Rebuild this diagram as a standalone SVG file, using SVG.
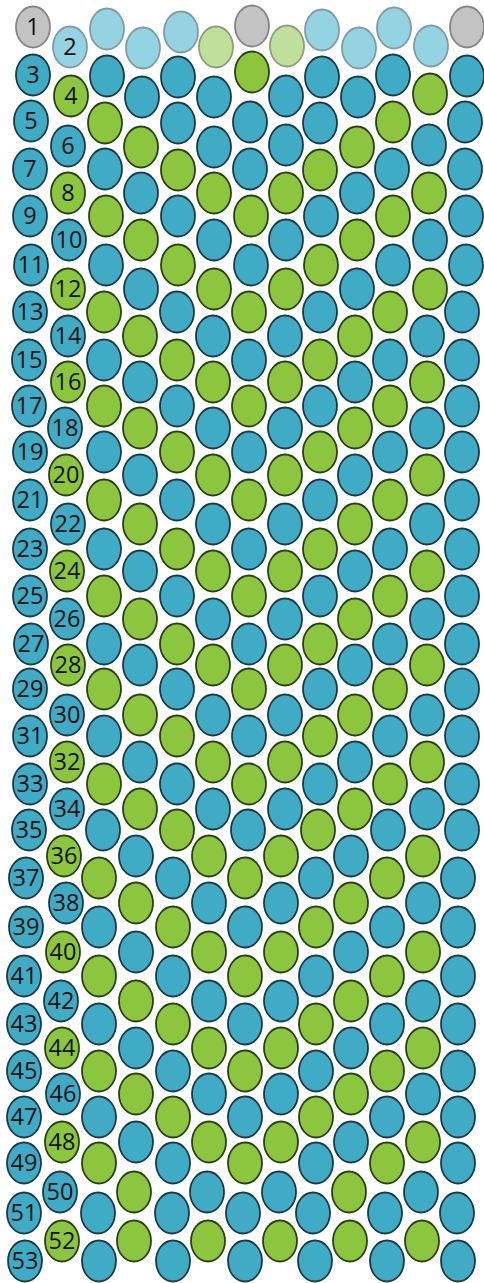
<svg xmlns="http://www.w3.org/2000/svg" xmlns:xlink="http://www.w3.org/1999/xlink" width="484" height="1283" viewBox="0 0 484 1283">
<style>
.bd{stroke-width:1.8}
.b{fill:#40abc4;stroke:#1c3a45}
.g{fill:#8cc63f;stroke:#2a4016}
.l{fill:#94d3e1;stroke:#7f9ca3}
.n{fill:#bfe09a;stroke:#8d9f78}
.y{fill:#c3c3c3;stroke:#858585}
text{font-family:"Open Sans","Noto Sans",sans-serif;font-size:23.5px;fill:#111;text-anchor:middle}
</style>
<defs>
<ellipse id="b" class="bd b" rx="17" ry="20.5"/>
<ellipse id="g" class="bd g" rx="17" ry="20.5"/>
<ellipse id="l" class="bd l" rx="17" ry="20.5"/>
<ellipse id="n" class="bd n" rx="17" ry="20.5"/>
<ellipse id="y" class="bd y" rx="17" ry="20.5"/>
</defs>
<rect width="484" height="1283" fill="#fff"/>
<g id="row-1"><use href="#y" x="33" y="27"/><use href="#l" x="107" y="29"/><use href="#l" x="181" y="32"/><use href="#y" x="252" y="26"/><use href="#l" x="322" y="30"/><use href="#l" x="394" y="28"/><use href="#y" x="467" y="27"/><text x="33" y="35">1</text></g>
<g id="row-2"><use href="#l" x="70" y="47"/><use href="#l" x="143" y="48"/><use href="#n" x="216" y="47"/><use href="#n" x="287" y="46"/><use href="#l" x="359" y="48"/><use href="#l" x="431" y="46"/><text x="70" y="55">2</text></g>
<g id="row-3"><use href="#b" x="33" y="75"/><use href="#b" x="107" y="76"/><use href="#b" x="178" y="77"/><use href="#g" x="252" y="72"/><use href="#b" x="322" y="77"/><use href="#b" x="393" y="75"/><use href="#b" x="467" y="76"/><text x="33" y="83">3</text></g>
<g id="row-4"><use href="#g" x="71" y="96"/><use href="#b" x="142" y="97"/><use href="#b" x="214" y="97"/><use href="#b" x="286" y="96"/><use href="#b" x="358" y="97"/><use href="#g" x="430" y="94"/><text x="71" y="104">4</text></g>
<g id="row-5"><use href="#b" x="31" y="121"/><use href="#g" x="105" y="123"/><use href="#b" x="178" y="123"/><use href="#b" x="250" y="122"/><use href="#b" x="320" y="123"/><use href="#g" x="393" y="122"/><use href="#b" x="465" y="122"/><text x="31" y="129">5</text></g>
<g id="row-6"><use href="#b" x="68" y="146"/><use href="#g" x="141" y="147"/><use href="#b" x="214" y="147"/><use href="#b" x="286" y="145"/><use href="#g" x="357" y="147"/><use href="#b" x="429" y="145"/><text x="68" y="154">6</text></g>
<g id="row-7"><use href="#b" x="30" y="169"/><use href="#b" x="105" y="169"/><use href="#g" x="178" y="170"/><use href="#b" x="250" y="169"/><use href="#g" x="320" y="170"/><use href="#b" x="392" y="169"/><use href="#b" x="465" y="169"/><text x="30" y="177">7</text></g>
<g id="row-8"><use href="#g" x="68" y="193"/><use href="#b" x="141" y="193"/><use href="#g" x="214" y="193"/><use href="#g" x="286" y="193"/><use href="#b" x="357" y="193"/><use href="#g" x="429" y="193"/><text x="68" y="201">8</text></g>
<g id="row-9"><use href="#b" x="30" y="216"/><use href="#g" x="106" y="216"/><use href="#b" x="178" y="216"/><use href="#g" x="251" y="216"/><use href="#b" x="321" y="216"/><use href="#g" x="393" y="216"/><use href="#b" x="466" y="216"/><text x="30" y="224">9</text></g>
<g id="row-10"><use href="#b" x="69" y="240"/><use href="#g" x="141" y="240"/><use href="#b" x="214" y="240"/><use href="#b" x="286" y="240"/><use href="#g" x="357" y="240"/><use href="#b" x="430" y="240"/><text x="69" y="248">10</text></g>
<g id="row-11"><use href="#b" x="31" y="265"/><use href="#b" x="106" y="265"/><use href="#g" x="178" y="265"/><use href="#b" x="251" y="265"/><use href="#g" x="321" y="265"/><use href="#b" x="393" y="265"/><use href="#b" x="466" y="265"/><text x="31" y="273">11</text></g>
<g id="row-12"><use href="#g" x="68" y="289"/><use href="#b" x="141" y="289"/><use href="#g" x="214" y="289"/><use href="#g" x="286" y="289"/><use href="#b" x="357" y="289"/><use href="#g" x="430" y="289"/><text x="68" y="297">12</text></g>
<g id="row-13"><use href="#b" x="30" y="312"/><use href="#g" x="104" y="312"/><use href="#b" x="177" y="312"/><use href="#g" x="249" y="312"/><use href="#b" x="320" y="312"/><use href="#g" x="390" y="312"/><use href="#b" x="462" y="312"/><text x="30" y="320">13</text></g>
<g id="row-14"><use href="#b" x="68" y="336"/><use href="#g" x="140" y="336"/><use href="#b" x="213" y="336"/><use href="#b" x="285" y="336"/><use href="#g" x="355" y="336"/><use href="#b" x="427" y="336"/><text x="68" y="344">14</text></g>
<g id="row-15"><use href="#b" x="29" y="360"/><use href="#b" x="104" y="360"/><use href="#g" x="177" y="360"/><use href="#b" x="249" y="360"/><use href="#g" x="320" y="360"/><use href="#b" x="390" y="360"/><use href="#b" x="462" y="360"/><text x="29" y="368">15</text></g>
<g id="row-16"><use href="#g" x="68" y="382"/><use href="#b" x="140" y="382"/><use href="#g" x="213" y="382"/><use href="#g" x="285" y="382"/><use href="#b" x="355" y="382"/><use href="#g" x="427" y="382"/><text x="68" y="390">16</text></g>
<g id="row-17"><use href="#b" x="29" y="406"/><use href="#g" x="104" y="406"/><use href="#b" x="177" y="406"/><use href="#g" x="249" y="406"/><use href="#b" x="320" y="406"/><use href="#g" x="390" y="406"/><use href="#b" x="462" y="406"/><text x="29" y="414">17</text></g>
<g id="row-18"><use href="#b" x="65" y="428"/><use href="#g" x="140" y="428"/><use href="#b" x="213" y="428"/><use href="#b" x="285" y="428"/><use href="#g" x="355" y="428"/><use href="#b" x="427" y="428"/><text x="65" y="436">18</text></g>
<g id="row-19"><use href="#b" x="30" y="452"/><use href="#b" x="104" y="452"/><use href="#g" x="177" y="452"/><use href="#b" x="249" y="452"/><use href="#g" x="320" y="452"/><use href="#b" x="390" y="452"/><use href="#b" x="462" y="452"/><text x="30" y="460">19</text></g>
<g id="row-20"><use href="#g" x="66" y="475"/><use href="#b" x="140" y="475"/><use href="#g" x="213" y="475"/><use href="#g" x="285" y="475"/><use href="#b" x="355" y="475"/><use href="#g" x="427" y="475"/><text x="66" y="483">20</text></g>
<g id="row-21"><use href="#b" x="30" y="500"/><use href="#g" x="104" y="500"/><use href="#b" x="177" y="500"/><use href="#g" x="249" y="500"/><use href="#b" x="320" y="500"/><use href="#g" x="390" y="500"/><use href="#b" x="462" y="500"/><text x="30" y="508">21</text></g>
<g id="row-22"><use href="#b" x="68" y="524"/><use href="#g" x="140" y="524"/><use href="#b" x="213" y="524"/><use href="#b" x="285" y="524"/><use href="#g" x="355" y="524"/><use href="#b" x="427" y="524"/><text x="68" y="532">22</text></g>
<g id="row-23"><use href="#b" x="30" y="549"/><use href="#b" x="104" y="549"/><use href="#g" x="177" y="549"/><use href="#b" x="249" y="549"/><use href="#g" x="320" y="549"/><use href="#b" x="390" y="549"/><use href="#b" x="462" y="549"/><text x="30" y="557">23</text></g>
<g id="row-24"><use href="#g" x="67" y="571"/><use href="#b" x="140" y="571"/><use href="#g" x="213" y="571"/><use href="#g" x="285" y="571"/><use href="#b" x="355" y="571"/><use href="#g" x="427" y="571"/><text x="67" y="579">24</text></g>
<g id="row-25"><use href="#b" x="30" y="596"/><use href="#g" x="104" y="596"/><use href="#b" x="177" y="596"/><use href="#g" x="249" y="596"/><use href="#b" x="320" y="596"/><use href="#g" x="390" y="596"/><use href="#b" x="462" y="596"/><text x="30" y="604">25</text></g>
<g id="row-26"><use href="#b" x="67" y="619"/><use href="#g" x="140" y="619"/><use href="#b" x="213" y="619"/><use href="#b" x="285" y="619"/><use href="#g" x="355" y="619"/><use href="#b" x="427" y="619"/><text x="67" y="627">26</text></g>
<g id="row-27"><use href="#b" x="31" y="644"/><use href="#b" x="104" y="644"/><use href="#g" x="177" y="644"/><use href="#b" x="249" y="644"/><use href="#g" x="320" y="644"/><use href="#b" x="390" y="644"/><use href="#b" x="462" y="644"/><text x="31" y="652">27</text></g>
<g id="row-28"><use href="#g" x="68" y="665"/><use href="#b" x="140" y="665"/><use href="#g" x="213" y="665"/><use href="#g" x="285" y="665"/><use href="#b" x="355" y="665"/><use href="#g" x="427" y="665"/><text x="68" y="673">28</text></g>
<g id="row-29"><use href="#b" x="30" y="689"/><use href="#g" x="104" y="689"/><use href="#b" x="177" y="689"/><use href="#g" x="249" y="689"/><use href="#b" x="320" y="689"/><use href="#g" x="390" y="689"/><use href="#b" x="462" y="689"/><text x="30" y="697">29</text></g>
<g id="row-30"><use href="#b" x="67" y="715"/><use href="#g" x="140" y="715"/><use href="#b" x="213" y="715"/><use href="#b" x="285" y="715"/><use href="#g" x="355" y="715"/><use href="#b" x="427" y="715"/><text x="67" y="723">30</text></g>
<g id="row-31"><use href="#b" x="30" y="736"/><use href="#b" x="104" y="736"/><use href="#g" x="177" y="736"/><use href="#b" x="249" y="736"/><use href="#g" x="320" y="736"/><use href="#b" x="390" y="736"/><use href="#b" x="462" y="736"/><text x="30" y="744">31</text></g>
<g id="row-32"><use href="#g" x="67" y="762"/><use href="#b" x="140" y="762"/><use href="#g" x="213" y="762"/><use href="#g" x="285" y="762"/><use href="#b" x="355" y="762"/><use href="#g" x="427" y="762"/><text x="67" y="770">32</text></g>
<g id="row-33"><use href="#b" x="30" y="784"/><use href="#g" x="104" y="784"/><use href="#b" x="177" y="784"/><use href="#g" x="249" y="784"/><use href="#b" x="320" y="784"/><use href="#g" x="390" y="784"/><use href="#b" x="462" y="784"/><text x="30" y="792">33</text></g>
<g id="row-34"><use href="#b" x="67" y="809"/><use href="#g" x="140" y="809"/><use href="#b" x="213" y="809"/><use href="#b" x="285" y="809"/><use href="#g" x="355" y="809"/><use href="#b" x="427" y="809"/><text x="67" y="817">34</text></g>
<g id="row-35"><use href="#b" x="29" y="830"/><use href="#b" x="103" y="830"/><use href="#g" x="177" y="830"/><use href="#b" x="248" y="830"/><use href="#g" x="318" y="830"/><use href="#b" x="388" y="830"/><use href="#b" x="462" y="830"/><text x="29" y="838">35</text></g>
<g id="row-36"><use href="#g" x="64" y="856"/><use href="#b" x="136" y="856"/><use href="#g" x="209" y="856"/><use href="#g" x="281" y="856"/><use href="#b" x="351" y="856"/><use href="#g" x="423" y="856"/><text x="64" y="864">36</text></g>
<g id="row-37"><use href="#b" x="26" y="878"/><use href="#g" x="99" y="878"/><use href="#b" x="173" y="878"/><use href="#g" x="245" y="878"/><use href="#b" x="316" y="878"/><use href="#g" x="387" y="878"/><use href="#b" x="458" y="878"/><text x="26" y="886">37</text></g>
<g id="row-38"><use href="#b" x="66" y="903"/><use href="#g" x="136" y="903"/><use href="#b" x="209" y="903"/><use href="#b" x="281" y="903"/><use href="#g" x="351" y="903"/><use href="#b" x="423" y="903"/><text x="66" y="911">38</text></g>
<g id="row-39"><use href="#b" x="26" y="927"/><use href="#b" x="99" y="927"/><use href="#g" x="173" y="927"/><use href="#b" x="245" y="927"/><use href="#g" x="316" y="927"/><use href="#b" x="387" y="927"/><use href="#b" x="458" y="927"/><text x="26" y="935">39</text></g>
<g id="row-40"><use href="#g" x="63" y="952"/><use href="#b" x="136" y="952"/><use href="#g" x="209" y="952"/><use href="#g" x="281" y="952"/><use href="#b" x="351" y="952"/><use href="#g" x="423" y="952"/><text x="63" y="960">40</text></g>
<g id="row-41"><use href="#b" x="24" y="976"/><use href="#g" x="99" y="976"/><use href="#b" x="173" y="976"/><use href="#g" x="245" y="976"/><use href="#b" x="316" y="976"/><use href="#g" x="387" y="976"/><use href="#b" x="458" y="976"/><text x="24" y="984">41</text></g>
<g id="row-42"><use href="#b" x="61" y="1001"/><use href="#g" x="136" y="1001"/><use href="#b" x="209" y="1001"/><use href="#b" x="281" y="1001"/><use href="#g" x="351" y="1001"/><use href="#b" x="423" y="1001"/><text x="61" y="1009">42</text></g>
<g id="row-43"><use href="#b" x="24" y="1024"/><use href="#b" x="99" y="1024"/><use href="#g" x="173" y="1024"/><use href="#b" x="245" y="1024"/><use href="#g" x="316" y="1024"/><use href="#b" x="387" y="1024"/><use href="#b" x="458" y="1024"/><text x="24" y="1032">43</text></g>
<g id="row-44"><use href="#g" x="62" y="1048"/><use href="#b" x="136" y="1048"/><use href="#g" x="209" y="1048"/><use href="#g" x="281" y="1048"/><use href="#b" x="351" y="1048"/><use href="#g" x="423" y="1048"/><text x="62" y="1056">44</text></g>
<g id="row-45"><use href="#b" x="24" y="1071"/><use href="#g" x="99" y="1071"/><use href="#b" x="173" y="1071"/><use href="#g" x="245" y="1071"/><use href="#b" x="316" y="1071"/><use href="#g" x="387" y="1071"/><use href="#b" x="458" y="1071"/><text x="24" y="1079">45</text></g>
<g id="row-46"><use href="#b" x="63" y="1094"/><use href="#g" x="136" y="1094"/><use href="#b" x="209" y="1094"/><use href="#b" x="281" y="1094"/><use href="#g" x="351" y="1094"/><use href="#b" x="423" y="1094"/><text x="63" y="1102">46</text></g>
<g id="row-47"><use href="#b" x="24" y="1117"/><use href="#b" x="99" y="1117"/><use href="#g" x="173" y="1117"/><use href="#b" x="245" y="1117"/><use href="#g" x="316" y="1117"/><use href="#b" x="387" y="1117"/><use href="#b" x="458" y="1117"/><text x="24" y="1125">47</text></g>
<g id="row-48"><use href="#g" x="62" y="1142"/><use href="#b" x="136" y="1142"/><use href="#g" x="209" y="1142"/><use href="#g" x="281" y="1142"/><use href="#b" x="351" y="1142"/><use href="#g" x="423" y="1142"/><text x="62" y="1150">48</text></g>
<g id="row-49"><use href="#b" x="24" y="1163"/><use href="#g" x="99" y="1163"/><use href="#b" x="173" y="1163"/><use href="#g" x="245" y="1163"/><use href="#b" x="316" y="1163"/><use href="#g" x="387" y="1163"/><use href="#b" x="458" y="1163"/><text x="24" y="1171">49</text></g>
<g id="row-50"><use href="#b" x="60" y="1192"/><use href="#g" x="134" y="1192"/><use href="#b" x="207" y="1192"/><use href="#b" x="279" y="1192"/><use href="#g" x="349" y="1192"/><use href="#b" x="421" y="1192"/><text x="60" y="1200">50</text></g>
<g id="row-51"><use href="#b" x="24" y="1213"/><use href="#b" x="98" y="1213"/><use href="#b" x="172" y="1213"/><use href="#b" x="243" y="1213"/><use href="#b" x="313" y="1213"/><use href="#b" x="385" y="1213"/><use href="#b" x="457" y="1213"/><text x="24" y="1221">51</text></g>
<g id="row-52"><use href="#g" x="62" y="1241"/><use href="#g" x="134" y="1241"/><use href="#g" x="208" y="1241"/><use href="#g" x="280" y="1241"/><use href="#g" x="350" y="1241"/><use href="#g" x="422" y="1241"/><text x="62" y="1249">52</text></g>
<g id="row-53"><use href="#b" x="25" y="1261"/><use href="#b" x="99" y="1261"/><use href="#b" x="173" y="1261"/><use href="#b" x="245" y="1261"/><use href="#b" x="315" y="1261"/><use href="#b" x="387" y="1261"/><use href="#b" x="458" y="1261"/><text x="25" y="1269">53</text></g>
</svg>
